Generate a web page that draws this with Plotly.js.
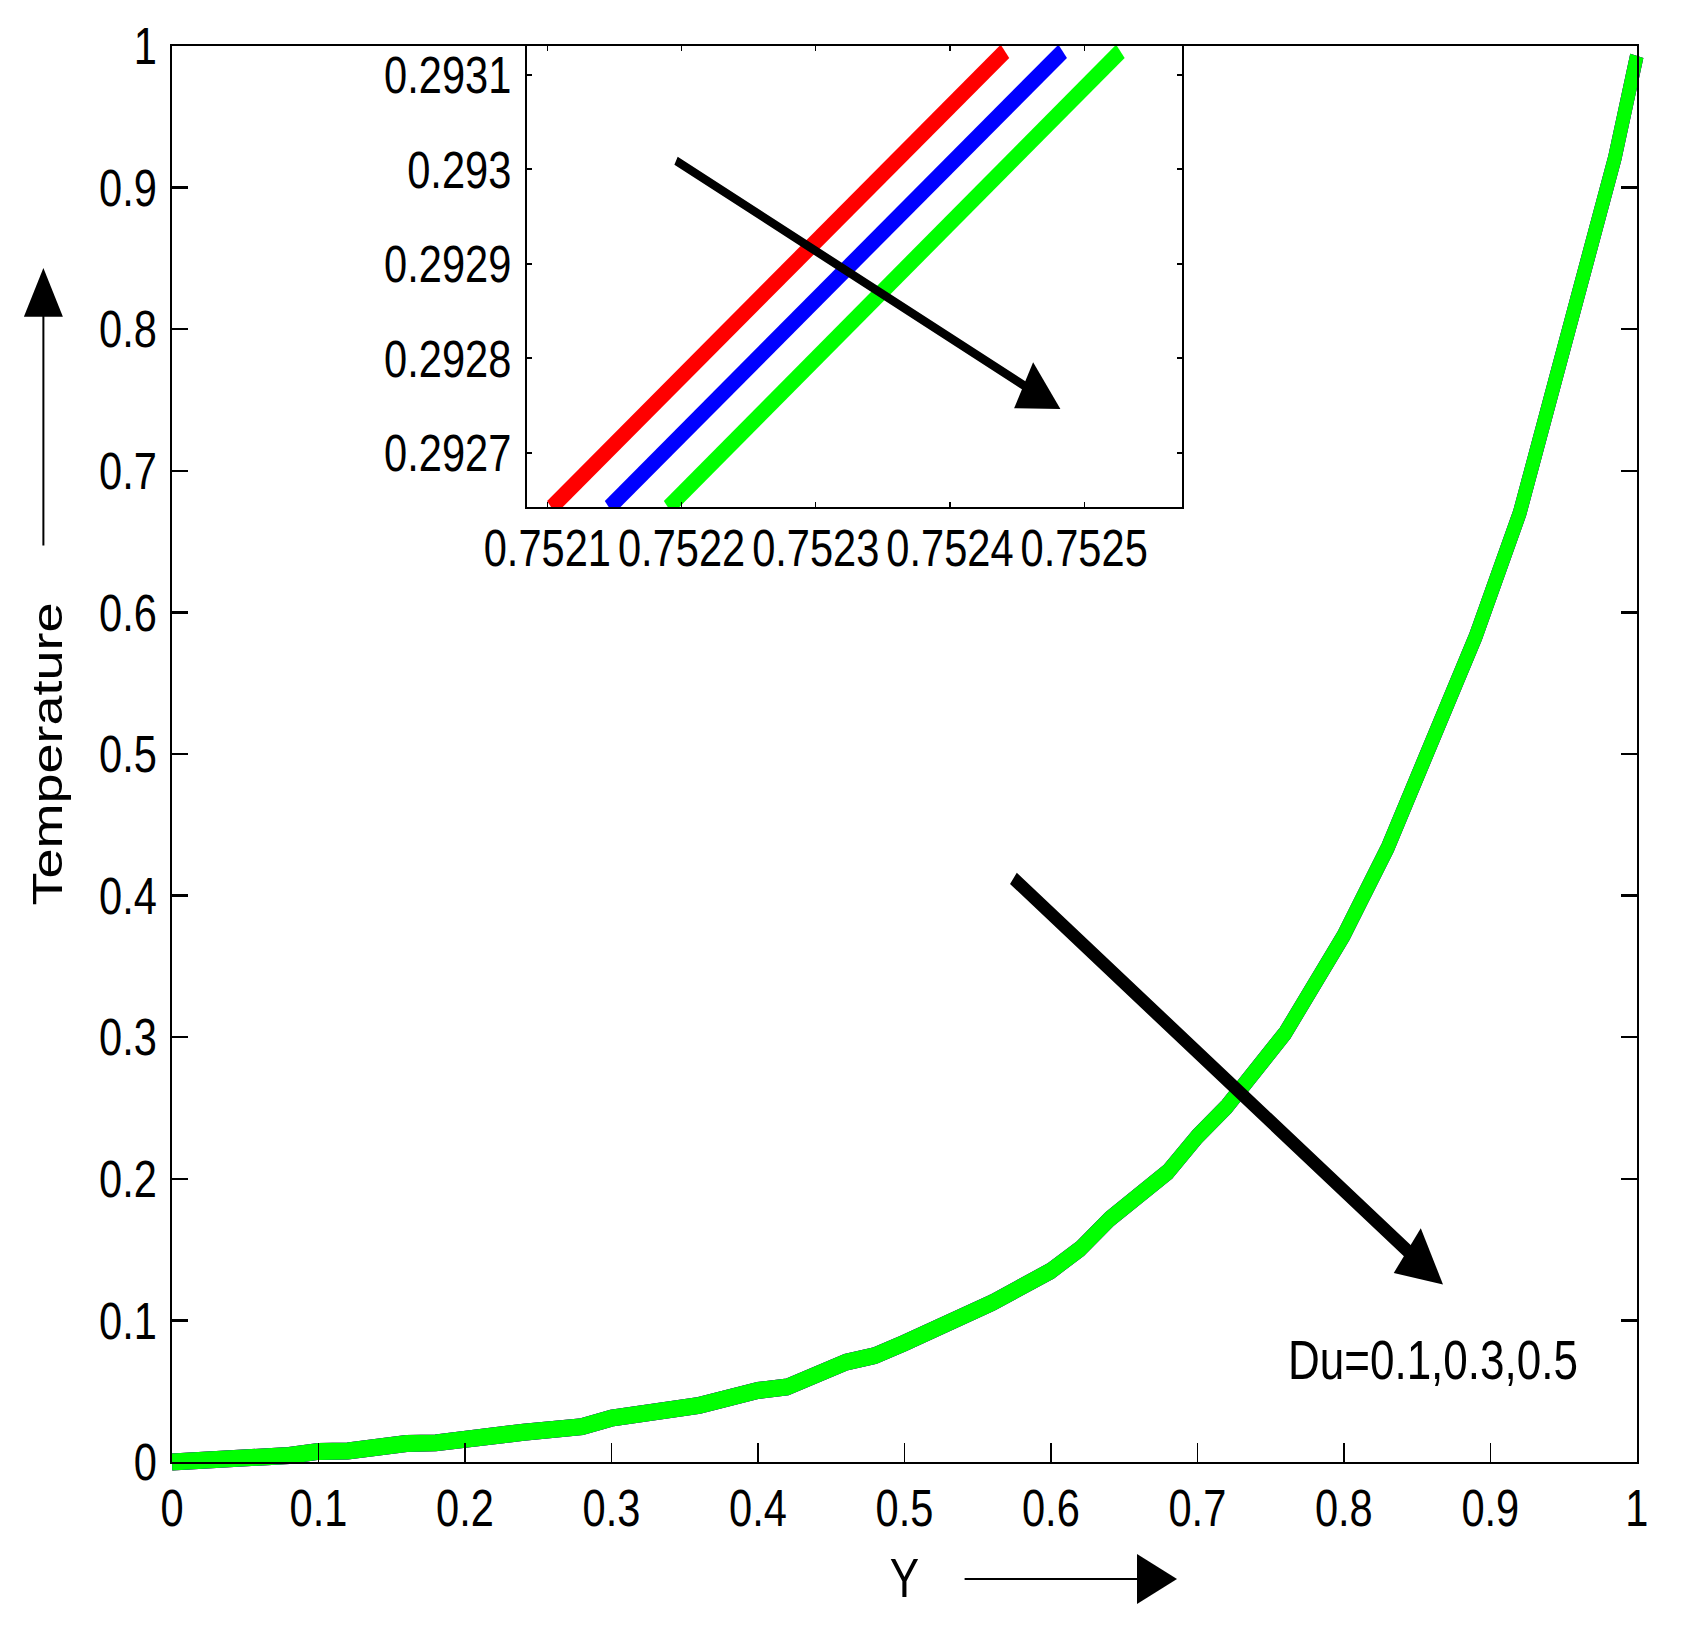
<!DOCTYPE html>
<html>
<head>
<meta charset="utf-8">
<script src="https://cdn.plot.ly/plotly-3.0.1.min.js"></script>
<style>
  html, body { margin: 0; padding: 0; background: #ffffff; }
  #frame { width: 1683px; height: 1626px; overflow: hidden; position: relative; }
  /* the reference figure is horizontally condensed: draw wider, then condense */
  #chart { width: 2104px; height: 1626px; transform: scaleX(0.8); transform-origin: 0 0; }
</style>
</head>
<body>
<div id="frame"><div id="chart"></div></div>
<script>
// ---------- data ----------
// main panel: Y coordinate and temperature (the three Du curves coincide at this scale)
const mainY = [0, 0.04, 0.06, 0.08, 0.10, 0.12, 0.16, 0.18, 0.24, 0.26, 0.28, 0.30, 0.36, 0.40, 0.42, 0.46, 0.48, 0.50, 0.54, 0.56, 0.60, 0.62, 0.64, 0.68, 0.70, 0.72, 0.76, 0.80, 0.83, 0.85, 0.87, 0.89, 0.92, 0.94, 0.95, 0.97, 0.985, 1.0];
const tempDu01 = [0, 0.001, 0.004, 0.0046, 0.0075, 0.0078, 0.013, 0.0135, 0.021, 0.022, 0.025, 0.031, 0.040, 0.0505, 0.053, 0.0705, 0.0752, 0.084, 0.101, 0.1125, 0.135, 0.1506, 0.1715, 0.205, 0.230, 0.251, 0.303, 0.372, 0.434, 0.482, 0.533, 0.583, 0.670, 0.745, 0.789, 0.858, 0.921, 0.993];
const tempDu03 = tempDu01;
const tempDu05 = tempDu01;

// inset (zoomed) panel
const insetDu01X = [0.752103, 0.752441];
const insetDu01T = [0.292642, 0.293125];
const insetDu03X = [0.752146, 0.752484];
const insetDu03T = [0.292642, 0.293125];
const insetDu05X = [0.752190, 0.752527];
const insetDu05T = [0.292642, 0.293125];

// ticks
const mainTickVals = [0, 0.1, 0.2, 0.3, 0.4, 0.5, 0.6, 0.7, 0.8, 0.9, 1];
const mainTickText = ["0", "0.1", "0.2", "0.3", "0.4", "0.5", "0.6", "0.7", "0.8", "0.9", "1"];
const topTickVals = [0.1, 0.2, 0.7, 0.8, 0.9];
const insetXTickVals = [0.7521, 0.7522, 0.7523, 0.7524, 0.7525];
const insetXTickText = ["0.7521", "0.7522", "0.7523", "0.7524", "0.7525"];
const insetYTickVals = [0.2927, 0.2928, 0.2929, 0.2930, 0.2931];
const insetYTickText = ["0.2927", "0.2928", "0.2929", "0.293", "0.2931"];

const duLabel = "Du=0.1,0.3,0.5";

// ---------- styling ----------
const FONT = "Liberation Sans, Arial, sans-serif";
const RED = "#ff0000", BLUE = "#0000ff", GREEN = "#00ff00";
const LW = 17;

const traces = [
  {x: mainY, y: tempDu01, xaxis: "x", yaxis: "y", mode: "lines", line: {color: RED, width: LW}, name: "Du=0.1"},
  {x: mainY, y: tempDu03, xaxis: "x", yaxis: "y", mode: "lines", line: {color: BLUE, width: LW}, name: "Du=0.3"},
  {x: mainY, y: tempDu05, xaxis: "x", yaxis: "y", mode: "lines", line: {color: GREEN, width: LW}, name: "Du=0.5"},
  {x: insetDu01X, y: insetDu01T, xaxis: "x2", yaxis: "y2", mode: "lines", line: {color: RED, width: LW}, name: "Du=0.1"},
  {x: insetDu03X, y: insetDu03T, xaxis: "x2", yaxis: "y2", mode: "lines", line: {color: BLUE, width: LW}, name: "Du=0.3"},
  {x: insetDu05X, y: insetDu05T, xaxis: "x2", yaxis: "y2", mode: "lines", line: {color: GREEN, width: LW}, name: "Du=0.5"}
];

const tickFont = {family: FONT, size: 52, color: "#000"};

const layout = {
  width: 2104, height: 1626,
  margin: {l: 215, r: 58, t: 46, b: 164, pad: 0},
  paper_bgcolor: "#ffffff", plot_bgcolor: "#ffffff",
  showlegend: false,
  xaxis: {
    domain: [0, 1], anchor: "y", range: [0, 1],
    tickvals: mainTickVals, ticktext: mainTickText, tickangle: 0,
    ticks: "inside", ticklen: 19, tickwidth: 2, tickcolor: "#000",
    showline: true, linewidth: 2, linecolor: "#000", mirror: true,
    showgrid: false, zeroline: false,
    tickfont: tickFont, ticklabelstandoff: 0,
    title: {text: "Y", font: {family: FONT, size: 55, color: "#000"}, standoff: 22}
  },
  xaxis3: {
    overlaying: "x", anchor: "y", side: "top", range: [0, 1],
    tickvals: topTickVals, ticks: "inside", ticklen: 18, tickwidth: 2, tickcolor: "#000",
    showticklabels: false, showline: false, showgrid: false, zeroline: false
  },
  yaxis: {
    domain: [0, 1], anchor: "x", range: [0, 1],
    tickvals: mainTickVals, ticktext: mainTickText,
    ticks: "inside", ticklen: 20, tickwidth: 2.5, tickcolor: "#000",
    showline: true, linewidth: 2.5, linecolor: "#000", mirror: "ticks",
    showgrid: false, zeroline: false,
    tickfont: tickFont, ticklabelstandoff: 6,
    title: {text: "Temperature", font: {family: FONT, size: 54, color: "#000"}, standoff: 29}
  },
  xaxis2: {
    domain: [0.2425, 0.6896], anchor: "y2", range: [0.752085, 0.752573],
    tickvals: insetXTickVals, ticktext: insetXTickText, tickangle: 0,
    ticks: "inside", ticklen: 5, tickwidth: 1.5, tickcolor: "#000",
    showline: true, linewidth: 2, linecolor: "#000", mirror: "ticks",
    showgrid: false, zeroline: false,
    tickfont: tickFont, ticklabelstandoff: -6
  },
  yaxis2: {
    domain: [0.6743, 1], anchor: "x2", range: [0.2926424, 0.2931306],
    tickvals: insetYTickVals, ticktext: insetYTickText,
    ticks: "inside", ticklen: 6, tickwidth: 2, tickcolor: "#000",
    showline: true, linewidth: 2.5, linecolor: "#000", mirror: "ticks",
    showgrid: false, zeroline: false,
    tickfont: tickFont, ticklabelstandoff: 7
  },
  annotations: [
    // main trend arrow
    {xref: "x", yref: "y", axref: "x", ayref: "y",
     x: 0.8677, y: 0.1254, ax: 0.5736, ay: 0.413, text: "",
     showarrow: true, arrowhead: 2, arrowsize: 0.8, arrowwidth: 14, arrowcolor: "#000", standoff: 0, startstandoff: 0},
    // inset trend arrow
    {xref: "x2", yref: "y2", axref: "x2", ayref: "y2",
     x: 0.7524823, y: 0.2927463, ax: 0.752195, ay: 0.29301, text: "",
     showarrow: true, arrowhead: 2, arrowsize: 1.15, arrowwidth: 9, arrowcolor: "#000", standoff: 0, startstandoff: 0},
    // Du label
    {xref: "x", yref: "y", x: 0.861, y: 0.0717, text: duLabel, showarrow: false,
     xanchor: "center", yanchor: "middle", font: {family: FONT, size: 55, color: "#000"}},
    // arrow beside the vertical axis title
    {xref: "paper", yref: "paper", x: -0.0878, y: 0.8432, ax: 0, ay: 279, axref: "pixel", ayref: "pixel", text: "",
     showarrow: true, arrowhead: 2, arrowsize: 3.9, arrowwidth: 2.5, arrowcolor: "#000", standoff: 0, startstandoff: 0},
    // arrow beside the horizontal axis title
    {xref: "paper", yref: "paper", x: 0.6861, y: -0.0826, ax: -267, ay: 0, axref: "pixel", ayref: "pixel", text: "",
     showarrow: true, arrowhead: 2, arrowsize: 5, arrowwidth: 2, arrowcolor: "#000", standoff: 0, startstandoff: 0}
  ]
};

Plotly.newPlot("chart", traces, layout, {displayModeBar: false, staticPlot: true}).then(function () {
  // the reference does not clip the thick main curve at the frame
  document.querySelectorAll("g.subplot.xy [clip-path]").forEach(function (el) {
    el.removeAttribute("clip-path");
  });
});
</script>
</body>
</html>
